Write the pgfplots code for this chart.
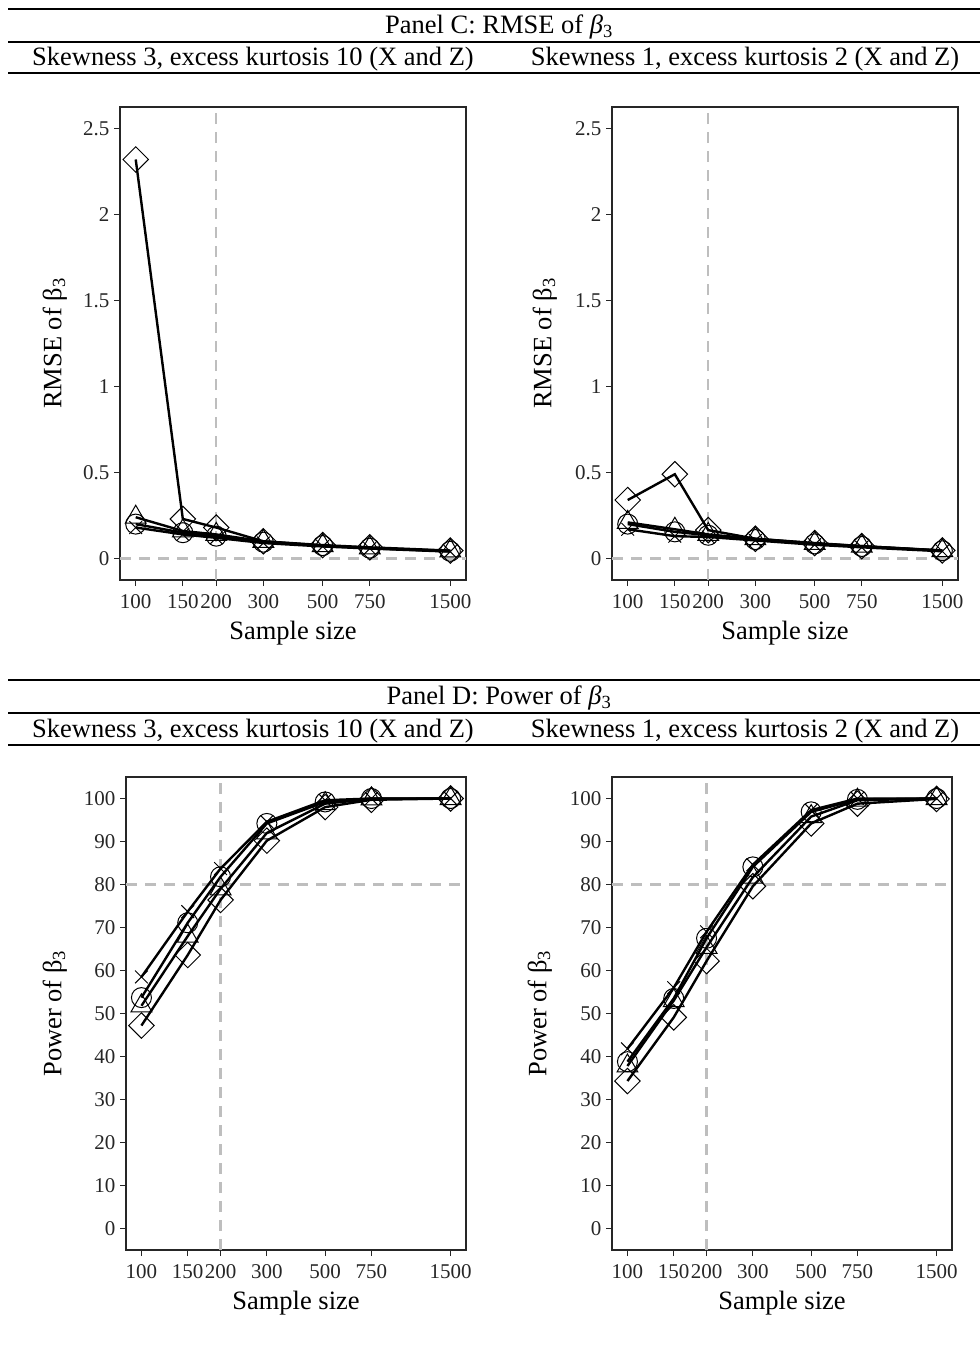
\documentclass[border=0pt]{standalone}
\usepackage{fontspec}
\setmainfont{Liberation Serif}
\usepackage{pgfplots}
\usepackage{pgfplotstable}
\pgfplotsset{compat=1.18}
\definecolor{c33}{HTML}{262626}
\definecolor{refgray}{HTML}{BEBEBE}

\pgfplotstableread{
n cross circ tri diam
100 0.18 0.20 0.24 2.32
150 0.14 0.15 0.16 0.23
200 0.12 0.13 0.14 0.18
300 0.09 0.095 0.10 0.10
500 0.07 0.075 0.075 0.078
750 0.058 0.06 0.062 0.065
1500 0.04 0.042 0.044 0.046
}\tCL
\pgfplotstableread{
n cross circ tri diam
100 0.17 0.20 0.21 0.34
150 0.13 0.155 0.17 0.49
200 0.125 0.135 0.14 0.165
300 0.105 0.11 0.115 0.115
500 0.08 0.085 0.088 0.09
750 0.065 0.07 0.072 0.072
1500 0.042 0.045 0.046 0.047
}\tCR
\pgfplotstableread{
n cross circ tri diam
100 58.5 53.7 51.8 47.2
150 73.7 71.1 68.0 63.6
200 83.7 81.8 79.0 76.4
300 94.6 94.2 92.0 90.2
500 99.6 99.2 98.8 98.0
750 100 100 99.9 99.7
1500 100 100 100 100
}\tDL
\pgfplotstableread{
n cross circ tri diam
100 41.8 38.8 37.8 34.3
150 56.0 53.5 53.0 49.1
200 69.0 67.5 65.4 62.2
300 84.6 84.1 81.7 79.6
500 97.3 96.9 95.8 94.2
750 100 99.8 99.6 98.8
1500 100 100 100 99.9
}\tDR

\pgfplotsset{
    scale only axis, height=473pt,
    xmin=87.35, xmax=1717,
    xtick={100,150,200,300,500,750,1500},
    xticklabels={100,150,200,300,500,750,1500},
    xminorticks=false, yminorticks=false,
    tick align=outside, xtick pos=bottom, ytick pos=left,
    major tick length=6pt,
    tick style={draw=c33, line width=1.2pt},
    axis line style={draw=c33, line width=1.3pt},
    tick label style={font=\fontsize{21}{25}\selectfont, text=c33},
    xticklabel style={yshift=-5pt},
    yticklabel style={xshift=-1pt},
    label style={font=\fontsize{26.5}{30}\selectfont},
    /pgf/number format/assume math mode=true,
}
\tikzset{
  refl/.style={refgray, line width=2.2pt, dash pattern=on 11pt off 8pt},
  ser/.style={black, line width=2.4pt},
}

\newcommand{\seriesall}[1]{%
  \addplot[ser, mark=x, mark size=9pt, mark options={solid, line width=1pt, fill=none}] table[x=n,y=cross]{#1};
  \addplot[ser, mark=o, mark size=10pt, mark options={solid, line width=1pt, fill=none}] table[x=n,y=circ]{#1};
  \addplot[ser, mark=triangle, mark size=12pt, mark options={solid, line width=1pt, fill=none}] table[x=n,y=tri]{#1};
  \addplot[ser, mark=square, mark size=9pt, mark options={solid, line width=1pt, fill=none, rotate=45}] table[x=n,y=diam]{#1};
}

\begin{document}
\begin{tikzpicture}
\useasboundingbox (0pt,0pt) rectangle (980pt,-1347pt);
\begin{scope}[font=\fontsize{26.5}{30}\selectfont]
% Panel C header
\draw[line width=2.3pt] (8pt,-9pt) -- (980pt,-9pt);
\node at (499pt,-27pt) {Panel C: RMSE of \textit{β}\textsubscript{3}};
\draw[line width=2pt] (8pt,-42pt) -- (980pt,-42pt);
\node at (253pt,-59pt) {Skewness 3, excess kurtosis 10 (X and Z)};
\node at (745pt,-59pt) {Skewness 1, excess kurtosis 2 (X and Z)};
\draw[line width=2pt] (8pt,-73pt) -- (980pt,-73pt);
% Panel D header
\draw[line width=2.3pt] (8pt,-680pt) -- (980pt,-680pt);
\node at (499pt,-698pt) {Panel D: Power of \textit{β}\textsubscript{3}};
\draw[line width=2pt] (8pt,-713pt) -- (980pt,-713pt);
\node at (253pt,-731pt) {Skewness 3, excess kurtosis 10 (X and Z)};
\node at (745pt,-731pt) {Skewness 1, excess kurtosis 2 (X and Z)};
\draw[line width=2pt] (8pt,-745pt) -- (980pt,-745pt);
\end{scope}

% Panel C left
\begin{semilogxaxis}[width=346pt, at={(120pt,-580pt)}, anchor=south west,
  ymin=-0.125, ymax=2.625, ytick={0,0.5,1,1.5,2,2.5},
  yticklabels={0,0.5,1,1.5,2,2.5},
  xlabel={Sample size},
  xlabel style={at={(axis description cs:0.5,-0.112)}, anchor=center},
  ylabel={RMSE of β\textsubscript{3}},
  ylabel style={at={(axis description cs:-0.188,0.5)}, anchor=center}]
\addplot[refl] coordinates {(200,-0.125) (200,2.625)};
\addplot[refl] coordinates {(87.35,0) (1717,0)};
\seriesall{\tCL}
\end{semilogxaxis}

% Panel C right
\begin{semilogxaxis}[width=346pt, at={(612pt,-580pt)}, anchor=south west,
  ymin=-0.125, ymax=2.625, ytick={0,0.5,1,1.5,2,2.5},
  yticklabels={0,0.5,1,1.5,2,2.5},
  xlabel={Sample size},
  xlabel style={at={(axis description cs:0.5,-0.112)}, anchor=center},
  ylabel={RMSE of β\textsubscript{3}},
  ylabel style={at={(axis description cs:-0.194,0.5)}, anchor=center}]
\addplot[refl] coordinates {(200,-0.125) (200,2.625)};
\addplot[refl] coordinates {(87.35,0) (1717,0)};
\seriesall{\tCR}
\end{semilogxaxis}

% Panel D left
\begin{semilogxaxis}[width=340pt, at={(126pt,-1250pt)}, anchor=south west,
  ymin=-5, ymax=105, ytick={0,10,...,100},
  xlabel={Sample size},
  xlabel style={at={(axis description cs:0.5,-0.112)}, anchor=center},
  ylabel={Power of β\textsubscript{3}},
  ylabel style={at={(axis description cs:-0.209,0.5)}, anchor=center}]
\addplot[refl] coordinates {(200,-5) (200,105)};
\addplot[refl] coordinates {(87.35,80) (1717,80)};
\seriesall{\tDL}
\end{semilogxaxis}

% Panel D right
\begin{semilogxaxis}[width=340pt, at={(612pt,-1250pt)}, anchor=south west,
  ymin=-5, ymax=105, ytick={0,10,...,100},
  xlabel={Sample size},
  xlabel style={at={(axis description cs:0.5,-0.112)}, anchor=center},
  ylabel={Power of β\textsubscript{3}},
  ylabel style={at={(axis description cs:-0.212,0.5)}, anchor=center}]
\addplot[refl] coordinates {(200,-5) (200,105)};
\addplot[refl] coordinates {(87.35,80) (1717,80)};
\seriesall{\tDR}
\end{semilogxaxis}
\end{tikzpicture}
\end{document}
